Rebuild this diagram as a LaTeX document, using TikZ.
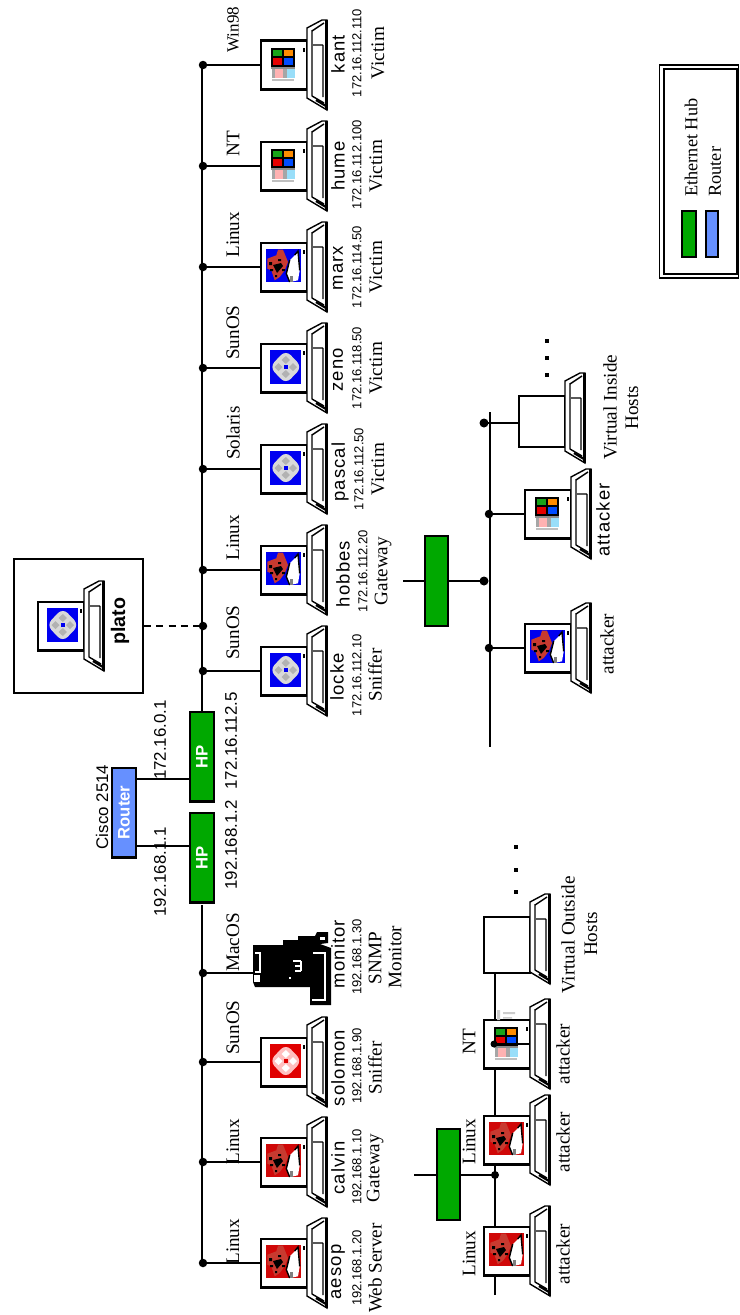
\documentclass[tikz,border=0pt]{standalone}
\usepackage{fontspec}
\setmainfont{Liberation Serif}
\setsansfont{Liberation Sans}
\definecolor{hubgreen}{HTML}{00A800}
\definecolor{routerblue}{HTML}{6690FF}
\definecolor{iconblue}{HTML}{0000F0}
\definecolor{iconred}{HTML}{E00000}
\definecolor{iconredb}{HTML}{D00808}
\definecolor{birdred}{HTML}{C83A30}
\newcounter{lblno}
\tikzset{
  wire/.style={line width=1.15pt,black},
  boxln/.style={line width=1.15pt,black},
  pcbox/.style={draw=black,line width=1.15pt,fill=white,rectangle,inner sep=0pt,minimum width=0.92cm},
  hubbox/.style={draw=black,line width=1.15pt,fill=hubgreen,rectangle,inner sep=0pt,minimum width=0.48cm,minimum height=1.8cm,text=white,font=\sffamily\bfseries\fontsize{9.5}{10}\selectfont},
  routerbox/.style={draw=black,line width=1.15pt,fill=routerblue,rectangle,inner sep=0pt,minimum width=0.48cm,minimum height=1.8cm,text=white,font=\sffamily\bfseries\fontsize{9.5}{10}\selectfont},
  busdot/.style={circle,fill=black,inner sep=0pt,minimum size=0.17cm},
  ser/.style={rotate=90,inner sep=0pt,font=\rmfamily\fontsize{10.9}{12}\selectfont},
  legt/.style={rotate=90,anchor=west,inner sep=0pt,font=\rmfamily\fontsize{10.4}{12}\selectfont},
  nam/.style={rotate=90,inner sep=0pt,font=\sffamily\fontsize{10.5}{12}\addfontfeature{LetterSpace=6}\selectfont},
  ipn/.style={rotate=90,inner sep=0pt,font=\sffamily\fontsize{7.4}{9}\selectfont},
  lan/.style={rotate=90,inner sep=0pt,font=\sffamily\fontsize{9.6}{10}\selectfont},
  oslab/.style={ser,anchor=west},
}
% generic label
\newcommand{\lbl}[4]{\stepcounter{lblno}\node[#1] (lbl\arabic{lblno}) at (#2,#3) {#4};}
% keyboard: x of left edge, centre y
\newcommand{\kbd}[2]{%
\begin{scope}[shift={(#1,#2)}]
  \draw[line width=0.8pt,fill=white] (0,-37)--(15,-45)--(20,-45)--(20,45)--(0,33)--cycle;
  \draw[line width=0.8pt] (5,-35)--(5,31) (5,-34)--(17,-42) (5,31)--(17,38) (6,-20)--(16,-20) (16,-20)--(16,32);
  \draw[line width=1.5pt] (19.5,-45)--(19.5,45);
  \draw[line width=1.3pt] (9,35)--(19,41);
\end{scope}}
% icons, in coordinates local to the left edge and centre of a screen
\newcommand{\birdicon}[1]{%
  \fill[#1] (5,-18) rectangle (40,15);
  \fill[birdred] (6.3,-8.3)--(15.3,-11.7)--(17,-17.3)--(22,-17.3)--(25.3,-9.3)--(27,-5)--(23.7,3.3)--(18.7,10)--(13.7,13.3)--(10.3,3.3)--(6.3,1.7)--cycle;
  \fill[black] (12,-2)--(20,-4)--(22,-1)--(16,6)--(14,2)--cycle (8,-5) rectangle (11,-2) (9,2) rectangle (12,4)
     (17,-8) rectangle (20,-6) (21,2) rectangle (24,4) (14,8) rectangle (16,10);
  \fill[white] (28.7,-6.7)--(33.7,-11.7)--(37,-15)--(38.7,3.3)--(37,13.3)--(28.7,15)--(25.3,6.7)--cycle;
  \draw[black,line width=0.8pt] (28.7,-7)--(25.3,6.7)--(28.7,15) (33.7,-12)--(37,-16)--(38.7,3.3);
  \fill[black!50] (29,9) rectangle (32,15);
  \fill[black] (41.5,-17) rectangle (43.5,-13.5);}
\newcommand{\sunicon}[3]{%
  \fill[#1] (9.3,-17.8) rectangle (40.3,15.5);
  \fill[#2,rounded corners=4pt] (24.8,-18) --(41,-1)--(24.8,16)--(8.6,-1)--cycle;
  \fill[#3] (24.8,-12)--(29,-8)--(24.8,-4)--(20.6,-8)--cycle
            (24.8,2)--(29,6)--(24.8,10)--(20.6,6)--cycle
            (17.5,-5)--(21.5,-1)--(17.5,3)--(13.5,-1)--cycle
            (32,-5)--(36,-1)--(32,3)--(28,-1)--cycle;
  \fill[#1] (22.8,-3) rectangle (26.8,1);
  \fill[black] (41.5,-17) rectangle (43.5,-13.5);}
\newcommand{\winicon}{%
  \fill[black] (10.3,-16.8) rectangle (33.7,1.5);
  \fill[green!60!black!90] (12,-15.2) rectangle (21,-9.5);
  \fill[orange!90!yellow] (22.7,-15.2) rectangle (32,-9.5);
  \fill[red!90!black] (12,-6.8) rectangle (21,-0.2);
  \fill[blue!70!cyan] (23.3,-6.8) rectangle (32,-0.2);
  \fill[black!45] (10,2) rectangle (33.7,3.8);
  \fill[black!35] (11,3.8) rectangle (14,13);
  \fill[black!35] (22,3.8) rectangle (26,13);
  \fill[red!30] (14.3,3.8) rectangle (22,13.2);
  \fill[cyan!40] (26,3.8) rectangle (33.7,13.2);
  \fill[black!25] (11,14) rectangle (33,15.5);
  \fill[black] (41.5,-17) rectangle (43.5,-13.5);}
% computer: name, left x, centre y, half height, icon
\newcommand{\pc}[5]{%
  \node[pcbox,minimum height={#4*0.04cm}] (#1) at (#2+23,#3) {};
  \begin{scope}[shift={(#2,#3)}]#5\end{scope}
  \pgfmathsetmacro{\kx}{#2+46}\kbd{\kx}{#3}}
\begin{document}
\begin{tikzpicture}[x=0.02cm,y=-0.02cm]
\useasboundingbox (0,0) rectangle (740,1315);
\fill[white] (0,0) rectangle (740,1315);

% --- bus dots
\foreach \nm/\yy in {dk/65,dh/166,dm/267,dz/368,dp/469,dho/570,dpl/626,dl/671,dma/973,dso/1062,dca/1162,dae/1263}
  \node[busdot] (\nm) at (203,\yy) {};

% --- hubs and router
\node[hubbox] (hubA) at (202,756.5) {\rotatebox{90}{HP}};
\node[hubbox] (hubB) at (202,857.5) {\rotatebox{90}{HP}};
\node[routerbox] (rt) at (124,812.5) {\rotatebox{90}{Router}};
\coordinate (busLow) at (202,905);
\coordinate (busEnd) at (202,1263);

\draw[wire] (202,65) -- (hubA.north);
\draw[wire] (busLow) -- (busEnd);
\draw[wire] (rt.east |- 0,779) -- (hubA.west |- 0,779);
\draw[wire] (rt.east |- 0,846) -- (hubB.west |- 0,846);

% --- plato
\node[draw=black,line width=1.15pt,fill=white,rectangle,inner sep=0pt,minimum width=2.58cm,minimum height=2.68cm] (platoframe) at (78.5,626) {};
\pc{plato}{38}{626}{24.5}{\sunicon{iconblue}{black!15}{black!30}}
\lbl{rotate=90,inner sep=0pt,font=\sffamily\bfseries\fontsize{11.2}{12}\selectfont}{120}{621}{plato}
\draw[wire,dash pattern=on 4pt off 3pt] (platoframe.east) -- (dpl.center);

% --- upper row of hosts
\pc{kant}{261}{65}{24.5}{\winicon}
\pc{hume}{261}{166}{24.5}{\winicon}
\pc{marx}{261}{267}{24.5}{\birdicon{iconblue}}
\pc{zeno}{261}{368}{24.5}{\sunicon{iconblue}{black!15}{black!30}}
\pc{pascal}{261}{469}{24.5}{\sunicon{iconblue}{black!15}{black!30}}
\pc{hobbes}{261}{570}{24.5}{\birdicon{iconblue}}
\pc{locke}{261}{671}{24.5}{\sunicon{iconblue}{black!15}{black!30}}
\foreach \a/\b in {dk/kant,dh/hume,dm/marx,dz/zeno,dp/pascal,dho/hobbes,dl/locke}
  \draw[wire] (\a.center) -- (\b.west);

% --- lower row of hosts
\pc{solomon}{261}{1062}{24.5}{\sunicon{iconred}{red!25}{white}}
\pc{calvin}{261}{1162}{24.5}{\birdicon{iconredb}}
\pc{aesop}{261}{1263}{24.5}{\birdicon{iconredb}}
\foreach \a/\b in {dso/solomon,dca/calvin,dae/aesop}
  \draw[wire] (\a.center) -- (\b.west);

% --- Mac
\coordinate (macport) at (253,973);
\draw[wire] (dma.center) -- (macport);
\fill[black] (253,945)--(283,945)--(283,940)--(298,940)--(298,936)--(315,936)--(317,932)--(328,932)--(328,943)--(320,944)--(331,948)--(331,1005)--(310,1005)--(310,987)--(255,987)--(253,982)--cycle;
\draw[white,line width=0.9pt] (313,953)--(325,953)--(325,1000)--(312,1000);
\draw[white,line width=0.9pt] (255,953)--(260,953)--(260,972)--(255,972);
\fill[white] (254,975) rectangle (260,982);
\draw[white,line width=0.8pt] (293,961)--(301,961) (295,966)--(301,966) (295,971)--(301,971) (301,961)--(301,971);
\fill[white] (320,937) rectangle (325,940);
\fill[white] (289,977) rectangle (291,979);

% --- legend
\node[draw=black,line width=0.9pt,rectangle,inner sep=0pt,minimum width=1.58cm,minimum height=4.26cm] (legOut) at (699,171.5) {};
\node[draw=black,line width=0.9pt,rectangle,inner sep=0pt,minimum width=1.46cm,minimum height=4.1cm] (legIn) at (700.5,171.5) {};
\node[draw=black,line width=1.15pt,fill=hubgreen,rectangle,inner sep=0pt,minimum width=0.27cm,minimum height=0.92cm] (legHub) at (689,234) {};
\node[draw=black,line width=1.15pt,fill=routerblue,rectangle,inner sep=0pt,minimum width=0.24cm,minimum height=0.92cm] (legRt) at (712,234) {};
\lbl{legt}{691}{197}{Ethernet Hub}
\lbl{legt}{715}{197}{Router}

% --- OS labels, upper
\lbl{oslab,font=\rmfamily\fontsize{9.7}{12}\selectfont}{233}{53}{Win98}
\lbl{oslab}{233}{157}{NT}
\lbl{oslab}{233}{258}{Linux}
\lbl{oslab}{233}{360}{SunOS}
\lbl{oslab}{233}{460}{Solaris}
\lbl{oslab}{233}{561}{Linux}
\lbl{oslab}{233}{660}{SunOS}
% --- OS labels, lower
\lbl{oslab}{233}{972}{MacOS}
\lbl{oslab}{233}{1055}{SunOS}
\lbl{oslab}{233}{1165}{Linux}
\lbl{oslab}{233}{1265}{Linux}

% --- host names, addresses and roles, upper
\lbl{nam}{338}{54}{kant}\lbl{ipn}{357}{53}{172.16.112.110}\lbl{ser}{378}{53}{Victim}
\lbl{nam}{338}{166}{hume}\lbl{ipn}{357}{165}{172.16.112.100}\lbl{ser}{376}{166}{Victim}
\lbl{nam}{338}{268}{marx}\lbl{ipn}{357}{267}{172.16.114.50}\lbl{ser}{376}{267}{Victim}
\lbl{nam}{338}{370}{zeno}\lbl{ipn}{357}{368}{172.16.118.50}\lbl{ser}{376}{368}{Victim}
\lbl{nam}{340}{472}{pascal}\lbl{ipn}{359}{469}{172.16.112.50}\lbl{ser}{378}{469}{Victim}
\lbl{nam}{343}{574}{hobbes}\lbl{ipn}{363}{571}{172.16.112.20}\lbl{ser}{383}{571}{Gateway}
\lbl{nam}{337}{677}{locke}\lbl{ipn}{357}{675}{172.16.112.10}\lbl{ser}{375}{675}{Sniffer}
% --- lower
\lbl{nam}{338}{954}{monitor}\lbl{ipn}{357}{957}{192.168.1.30}\lbl{ser}{375}{958}{SNMP}\lbl{ser}{395}{957}{Monitor}
\lbl{nam}{338}{1068}{solomon}\lbl{ipn}{357}{1066}{192.168.1.90}\lbl{ser}{375}{1068}{Sniffer}
\lbl{nam}{338}{1168}{calvin}\lbl{ipn}{357}{1167}{192.168.1.10}\lbl{ser}{375}{1168}{Gateway}
\lbl{nam}{338}{1272}{aesop}\lbl{ipn}{357}{1268}{192.168.1.20}\lbl{ser}{375}{1268}{Web Server}

% --- router labels
\lbl{lan}{102}{807}{Cisco 2514}
\lbl{lan}{160}{872}{192.168.1.1}
\lbl{lan}{160}{740}{172.16.0.1}
\lbl{lan}{231}{845}{192.168.1.2}
\lbl{lan}{231}{741}{172.16.112.5}

% --- lower left group
\coordinate (bLa) at (495,1295);
\pc{attA}{484}{1251}{24.5}{\birdicon{iconredb}}
\pc{attB}{484}{1140}{24.5}{\birdicon{iconredb}}
\pc{attC}{484}{1044}{24.5}{\winicon}
\node[pcbox,minimum height=1.12cm] (virtL) at (507,945) {};
\kbd{530}{939}
\draw[wire] (bLa) -- (attA.south -| bLa);
\draw[wire] (attA.north -| bLa) -- (attB.south -| bLa);
\draw[wire] (attB.north -| bLa) -- (attC.south -| bLa);
\draw[wire] (attC.north -| bLa) -- (virtL.south -| bLa);
\node[busdot,minimum size=0.16cm] (dL) at (495,1175) {};
\node[hubbox,minimum width=0.46cm,minimum height=1.82cm] (hubL) at (448.5,1174.5) {};
\coordinate (inL) at (414,1175);
\draw[wire] (inL) -- (hubL.west |- inL);
\draw[wire] (hubL.east |- inL) -- (dL.center);
\node[busdot,minimum size=0.14cm] (dNT) at (494,1044) {};
\draw[wire] (dNT.center) -- (530,1044);
\fill[black!20] (497,1010) rectangle (500,1020) (503,1012) rectangle (515,1014) (503,1017) rectangle (512,1018.5);
\lbl{oslab}{469}{1277}{Linux}
\lbl{oslab}{469}{1165}{Linux}
\lbl{oslab}{469}{1055}{NT}
\lbl{ser}{563}{1254}{attacker}
\lbl{ser}{563}{1142}{attacker}
\lbl{ser}{563}{1054}{attacker}
\lbl{ser}{568}{935}{Virtual Outside}
\lbl{ser}{591}{934}{Hosts}
\foreach \nm/\yy in {oa/847,ob/870,oc/892}
  \node[fill=black,rectangle,inner sep=0pt,minimum size=0.08cm] (\nm) at (516,\yy) {};

% --- lower right group
\coordinate (bRa) at (490,412);
\coordinate (bRb) at (490,747);
\draw[wire] (bRa) -- (bRb);
\node[busdot,minimum size=0.18cm] (dRh) at (484,581) {};
\node[hubbox,minimum width=0.46cm,minimum height=1.8cm] (hubR) at (436.5,581) {};
\coordinate (inR) at (403,581);
\draw[wire] (inR) -- (hubR.west |- inR);
\draw[wire] (hubR.east |- inR) -- (dRh.center);
\node[busdot] (dRa) at (489,648) {};
\node[busdot] (dRb) at (489,514) {};
\node[busdot,minimum size=0.18cm] (dRc) at (484,423) {};
\pc{attD}{525}{648}{24.5}{\birdicon{iconblue}}
\pc{attE}{525}{514}{24.5}{\winicon}
\node[pcbox,minimum height=1.02cm] (virtR) at (542,421.5) {};
\kbd{565}{418}
\draw[wire] (dRa.center) -- (attD.west);
\draw[wire] (dRb.center) -- (attE.west);
\draw[wire] (dRc.center) -- (virtR.west |- dRc);
\lbl{ser}{607}{644}{attacker}
\lbl{nam}{603}{520}{attacker}
\lbl{ser}{610}{407}{Virtual Inside}
\lbl{ser}{632}{408}{Hosts}
\foreach \nm/\yy in {ia/375,ib/358,ic/341}
  \node[fill=black,rectangle,inner sep=0pt,minimum size=0.08cm] (\nm) at (547,\yy) {};
\end{tikzpicture}
\end{document}
